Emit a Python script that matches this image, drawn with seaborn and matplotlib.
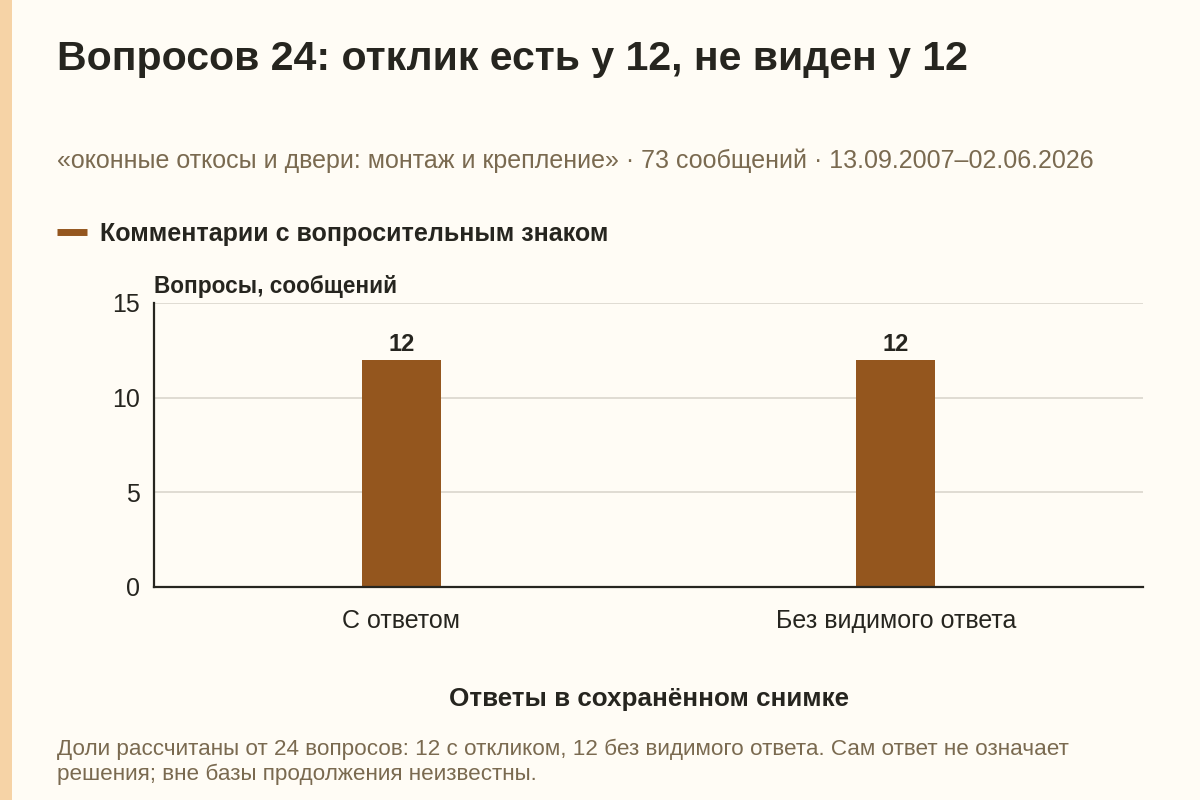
import matplotlib
matplotlib.use("Agg")
import matplotlib.pyplot as plt
from matplotlib.lines import Line2D
from matplotlib.patches import Rectangle
import seaborn as sns

# Данные
categories = ["С ответом", "Без видимого ответа"]
values = [12, 12]
y_ticks = [0, 5, 10, 15]

title = "Вопросов 24: отклик есть у 12, не виден у 12"
subtitle = "«оконные откосы и двери: монтаж и крепление» · 73 сообщений · 13.09.2007–02.06.2026"
legend_label = "Комментарии с вопросительным знаком"
y_label = "Вопросы, сообщений"
x_label = "Ответы в сохранённом снимке"
footnote = ("Доли рассчитаны от 24 вопросов: 12 с откликом, 12 без видимого ответа. Сам ответ не означает\n"
            "решения; вне базы продолжения неизвестны.")

BG = "#FFFCF5"
BAR = "#94561E"
DARK = "#26251F"
MUTED = "#7A6A50"
GRID = "#DAD6CD"

sns.set_theme(style="white")
plt.rcParams["font.family"] = ["Liberation Sans", "DejaVu Sans"]

fig = plt.figure(figsize=(12, 8), dpi=100, facecolor=BG)
fig.patches.append(Rectangle((0, 0), 12 / 1200, 1, transform=fig.transFigure,
                             facecolor="#F6D3A6", edgecolor="none"))

ax = fig.add_axes([154 / 1200, 213 / 800, 989 / 1200, 284 / 800])
ax.set_facecolor(BG)

sns.barplot(x=categories, y=values, width=0.16, color=BAR, saturation=1,
            linewidth=0, ax=ax)

ax.set_xlim(-0.5, 1.5)
ax.set_ylim(0, 15)
ax.set_yticks(y_ticks)
ax.yaxis.grid(True, color=GRID, linewidth=1.2)
ax.set_axisbelow(True)

for side in ["top", "right"]:
    ax.spines[side].set_visible(False)
for side in ["left", "bottom"]:
    ax.spines[side].set_color(DARK)
    ax.spines[side].set_linewidth(1.6)

ax.tick_params(axis="x", length=6, width=1, color=DARK, labelsize=18, labelcolor=DARK, pad=10)
ax.tick_params(axis="y", length=0, labelsize=18, labelcolor=DARK, pad=10)
ax.set_xlabel("")
ax.set_ylabel("")

for cont in ax.containers:
    ax.bar_label(cont, fmt="%d", padding=3, fontsize=17, fontweight="bold", color=DARK)

ax.text(0, 1.018, y_label, transform=ax.transAxes, ha="left", va="bottom",
        fontsize=16.3, fontweight="bold", color=DARK)

fig.text(57 / 1200, 1 - 59 / 800, title, ha="left", va="center",
         fontsize=29.5, fontweight="bold", color=DARK)
fig.text(57 / 1200, 1 - 161 / 800, subtitle, ha="left", va="center",
         fontsize=18, color=MUTED)

handle = Line2D([], [], color=BAR, linewidth=5, solid_capstyle="butt")
fig.legend([handle], [legend_label], loc="center left",
           bbox_to_anchor=(39 / 1200, 1 - 234 / 800), frameon=False,
           handlelength=1.2, handletextpad=0.52, borderpad=0.2,
           prop={"size": 18, "weight": "bold"}, labelcolor=DARK)

fig.text(649 / 1200, 1 - 699 / 800, x_label, ha="center", va="center",
         fontsize=18.7, fontweight="bold", color=DARK)
fig.text(57 / 1200, 1 - 762 / 800, footnote, ha="left", va="center",
         fontsize=16.2, color=MUTED, linespacing=1.25)

fig.savefig("out.png", dpi=100, facecolor=BG)
